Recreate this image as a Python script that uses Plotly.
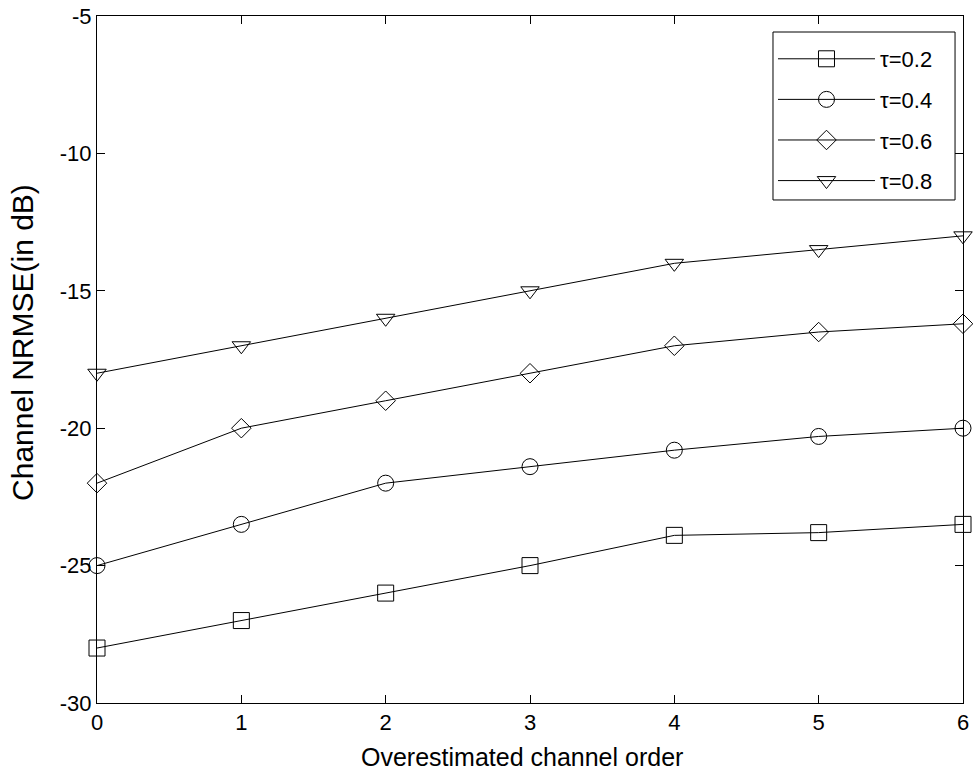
import plotly.graph_objects as go

x_order = [0, 1, 2, 3, 4, 5, 6]
tau_labels = ["τ=0.2", "τ=0.4", "τ=0.6", "τ=0.8"]
nrmse_tau02 = [-28.0, -27.0, -26.0, -25.0, -23.9, -23.8, -23.5]
nrmse_tau04 = [-25.0, -23.5, -22.0, -21.4, -20.8, -20.3, -20.0]
nrmse_tau06 = [-22.0, -20.0, -19.0, -18.0, -17.0, -16.5, -16.2]
nrmse_tau08 = [-18.0, -17.0, -16.0, -15.0, -14.0, -13.5, -13.0]
y_ticks = [-30, -25, -20, -15, -10, -5]
y_tick_labels = ["-30", "-25", "-20", "-15", "-10", "-5"]
x_tick_labels = ["0", "1", "2", "3", "4", "5", "6"]
x_title = "Overestimated channel order"
y_title = "Channel NRMSE(in dB)"

series = [nrmse_tau02, nrmse_tau04, nrmse_tau06, nrmse_tau08]
symbols = ["square-open", "circle-open", "diamond-open", "triangle-down-open"]
sizes = [16, 16, 15, 16]

FONT = "Liberation Sans, Arial, sans-serif"

fig = go.Figure()
for i, (lab, ys) in enumerate(zip(tau_labels, series)):
    fig.add_trace(go.Scatter(
        x=x_order, y=ys, name=lab, mode="lines+markers",
        legendgroup=lab,
        line=dict(color="black", width=1),
        marker=dict(symbol=symbols[i], size=sizes[i], color="black",
                    line=dict(color="black", width=1)),
        cliponaxis=False,
    ))

axis_common = dict(
    showline=True, linecolor="black", linewidth=1, mirror="ticks",
    ticks="inside", ticklen=8, tickcolor="black", tickwidth=1,
    showgrid=False, zeroline=False, automargin=False,
    tickfont=dict(family=FONT, size=22, color="black"),
)

fig.update_layout(
    width=973, height=774,
    margin=dict(l=97, r=10, t=16, b=71, autoexpand=False),
    paper_bgcolor="white", plot_bgcolor="white",
    font=dict(family=FONT, size=22, color="black"),
    xaxis=dict(range=[0, 6], tickvals=x_order, ticktext=x_tick_labels, **axis_common),
    yaxis=dict(range=[-30, -5], tickvals=y_ticks, ticktext=y_tick_labels, **axis_common),
    legend=dict(x=0.7806, y=0.968, xanchor="left", yanchor="top",
                borderwidth=0, bgcolor="rgba(0,0,0,0)",
                font=dict(family=FONT, size=22, color="black"),
                tracegroupgap=9, itemwidth=97),
    showlegend=True,
    shapes=[
        dict(type="rect", xref="paper", yref="paper",
             x0=0.7806, x1=0.9908, y0=0.7322, y1=0.9767,
             line=dict(color="black", width=1), fillcolor="white", layer="above"),
    ],
    annotations=[
        dict(text=x_title, xref="paper", yref="paper", x=0.4908, y=-0.0786,
             xanchor="center", yanchor="middle", showarrow=False,
             font=dict(family=FONT, size=25, color="black")),
        dict(text=y_title, xref="paper", yref="paper", x=-0.0855, y=0.5255,
             xanchor="center", yanchor="middle", showarrow=False, textangle=-90,
             font=dict(family=FONT, size=30, color="black")),
    ],
)

fig.write_html("out.html", config={"displayModeBar": False},
               post_script="document.body.style.margin='0px';")
